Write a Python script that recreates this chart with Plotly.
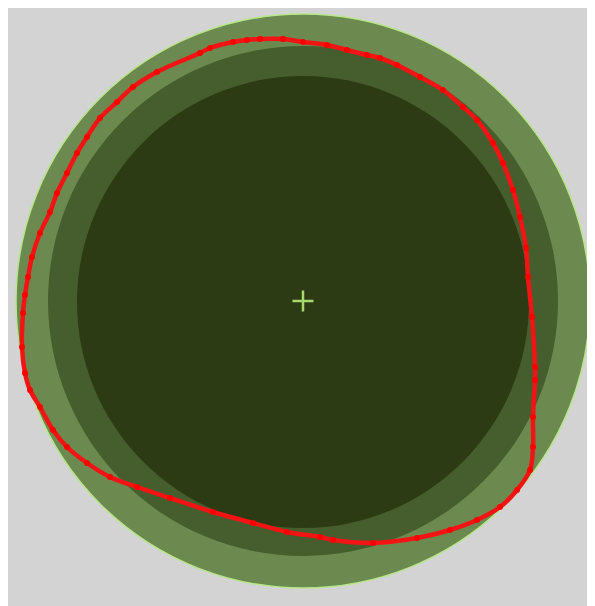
import plotly.graph_objects as go

# circles: centre and radius (px units, centre of plot = 0,0)
circle_cx = [0, 0, 0]
circle_cy = [0, 0, -1]
circle_r = [287, 255, 226]
circle_fill = ['#6c8a4f', '#465e2d', '#2c3b13']

# red traced contour
trace_x = [-20, -43, -56, -70, -93, -103, -146, -170, -186, -203, -216, -226, -236,
           -246, -253, -263, -271, -275, -278, -280, -281, -278, -273, -263, -250,
           -236, -216, -193, -166, -133, -90, -50, -16, 17, 30, 70, 114, 147, 174,
           197, 214, 227, 230, 230, 232, 232, 229, 225, 223, 217, 210, 200, 190,
           174, 160, 140, 117, 94, 77, 64, 44, 24, 0, -20]
trace_y = [262, 262, 261, 259, 253, 248, 229, 214, 199, 183, 164, 148, 128,
           108, 89, 68, 44, 24, 6, -12, -46, -72, -89, -106, -129,
           -146, -162, -176, -186, -197, -211, -222, -231, -236, -239, -242, -237, -229, -219,
           -206, -189, -169, -146, -116, -79, -66, -16, 24, 53, 84, 111, 138, 158,
           181, 194, 211, 224, 236, 243, 246, 251, 256, 259, 262]

# centre marker
centre_x = [0]
centre_y = [0]

fig = go.Figure()

for i in range(len(circle_r)):
    fig.add_shape(type='circle', xref='x', yref='y',
                  x0=circle_cx[i] - circle_r[i], x1=circle_cx[i] + circle_r[i],
                  y0=circle_cy[i] - circle_r[i], y1=circle_cy[i] + circle_r[i],
                  fillcolor=circle_fill[i],
                  line=dict(color='#b8e68a' if i == 0 else circle_fill[i], width=1.5 if i == 0 else 0),
                  layer='below')

fig.add_trace(go.Scatter(x=trace_x, y=trace_y, mode='lines+markers',
                         line=dict(color='#f21414', width=4.5, shape='spline'),
                         marker=dict(color='#ff0000', size=6),
                         hoverinfo='skip', showlegend=False))

fig.add_trace(go.Scatter(x=centre_x, y=centre_y, mode='markers',
                         marker=dict(symbol='cross-thin', size=15,
                                     line=dict(color='#a6d86c', width=2.5)),
                         showlegend=False))

# page body adds 8px margin, so the figure is sized to fill the rest
fig.update_layout(
    width=587, height=598,
    margin=dict(l=0, r=0, t=0, b=0),
    paper_bgcolor='white',
    plot_bgcolor='#d3d3d3',
    xaxis=dict(range=[-295, 292], visible=False, fixedrange=True),
    yaxis=dict(range=[-305, 293], visible=False, fixedrange=True),
)

fig.write_html("out.html")
